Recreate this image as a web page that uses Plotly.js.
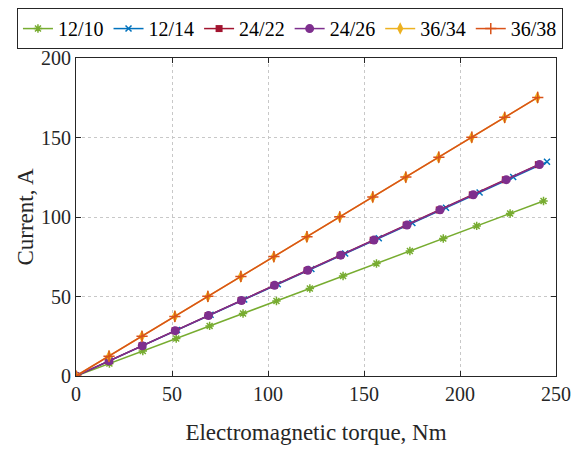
<!DOCTYPE html>
<html><head><meta charset="utf-8">
<script src="https://cdn.plot.ly/plotly-3.0.1.min.js"></script>
<style>body{margin:0;padding:0;background:#fff}#chart{width:574px;height:449px}</style>
</head><body><div id="chart"></div>
<script>
const names = ["12/10","12/14","24/22","24/26","36/34","36/38"];
const colors = ["#77AC30","#0072BD","#A2142F","#7E2F8E","#EDB120","#D95319"];

const x_12_10 = [0,17.4,34.8,52.2,69.6,87.0,104.4,121.8,139.1,156.5,173.9,191.3,208.7,226.1,243.5];
const y_12_10 = [0,7.9,15.7,23.6,31.5,39.3,47.2,55.0,62.9,70.8,78.6,86.5,94.4,102.2,110.1];

const x_12_14 = [0,17.5,35.0,52.6,70.1,87.6,105.1,122.6,140.2,157.7,175.2,192.7,210.2,227.7,245.3];
const y_12_14 = [0,9.6,19.2,28.9,38.5,48.1,57.7,67.3,77.0,86.6,96.2,105.8,115.4,125.1,134.7];

const x_24_22 = [0,17.2,34.4,51.6,68.8,86.0,103.2,120.4,137.6,154.8,172.0,189.2,206.4,223.6,240.8];
const y_24_22 = [0,9.5,19.0,28.5,38.0,47.5,57.0,66.4,75.9,85.4,94.9,104.4,113.9,123.4,132.9];

const x_24_26 = [0,17.2,34.5,51.7,69.0,86.2,103.4,120.7,137.9,155.2,172.4,189.6,206.9,224.1,241.4];
const y_24_26 = [0,9.5,19.0,28.5,38.0,47.5,57.0,66.5,76.0,85.5,95.0,104.5,114.0,123.5,133.0];

const x_36_34 = [0,17.2,34.3,51.5,68.7,85.8,103.0,120.2,137.3,154.5,171.7,188.8,206.0,223.2,240.3];
const y_36_34 = [0,12.5,25.0,37.5,50.0,62.5,75.0,87.5,100.0,112.5,125.0,137.5,150.0,162.6,175.1];

const x_36_38 = [0,17.2,34.4,51.5,68.7,85.9,103.1,120.3,137.4,154.6,171.8,189.0,206.2,223.3,240.5];
const y_36_38 = [0,12.5,25.0,37.5,50.1,62.6,75.1,87.6,100.1,112.6,125.1,137.6,150.2,162.7,175.2];

const xs = [x_12_10,x_12_14,x_24_22,x_24_26,x_36_34,x_36_38];
const ys = [y_12_10,y_12_14,y_24_22,y_24_26,y_36_34,y_36_38];
const symbols = ["asterisk-open","x-thin-open","square","circle","diamond-tall","cross-thin-open"];
const sizes = [7,6,7,9,9,8];

const FONT = "Liberation Serif";

const traces = names.map((n,i)=>({
  x: xs[i], y: ys[i], name: n, type:"scatter", mode:"lines+markers",
  line:{color:colors[i], width:1.5},
  marker:{symbol:symbols[i], size:sizes[i], color:colors[i],
    line:{color:colors[i], width:(symbols[i].indexOf("open")>=0?1.5:0)}}
}));

const axisCommon = {
  showline:true, linecolor:"#262626", linewidth:1, mirror:"ticks",
  ticks:"inside", ticklen:5, tickcolor:"#262626",
  showgrid:true, gridcolor:"#c8c8c8", griddash:"dot", gridwidth:1,
  zeroline:false,
  tickfont:{family:FONT, size:20, color:"#262626"}
};

const layout = {
  width:574, height:449,
  margin:{l:76, r:18, t:58, b:73, autoexpand:false},
  paper_bgcolor:"#fff", plot_bgcolor:"#fff",
  font:{family:FONT, color:"#262626"},
  xaxis: Object.assign({}, axisCommon, {range:[0,250], dtick:50,
    title:{text:"Electromagnetic torque, Nm", font:{family:FONT, size:23, color:"#262626"}, standoff:19}}),
  yaxis: Object.assign({}, axisCommon, {range:[0,200], dtick:50,
    title:{text:"Current, A", font:{family:FONT, size:23, color:"#262626"}, standoff:0}}),
  showlegend:true,
  legend:{orientation:"h", x:-0.123, xanchor:"left", y:1.157, yanchor:"top",
    bordercolor:"#262626", borderwidth:1, bgcolor:"#fff",
    font:{family:FONT, size:20, color:"#000"},
    itemwidth:30, tracegroupgap:0}
};

Plotly.newPlot("chart", traces, layout, {displayModeBar:false, staticPlot:true});
</script></body></html>
